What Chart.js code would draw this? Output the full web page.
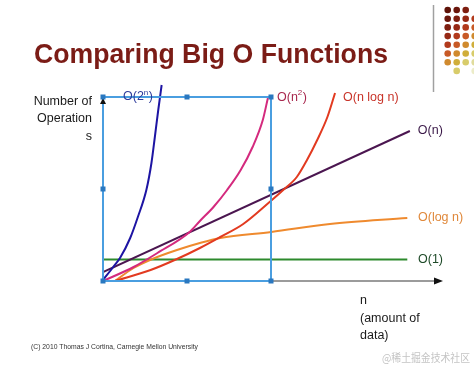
<!DOCTYPE html>
<html>
<head>
<meta charset="utf-8">
<script src="https://cdn.jsdelivr.net/npm/chart.js@4/dist/chart.umd.min.js"></script>
<style>
  html, body { margin:0; padding:0; background:#fff; }
  canvas { display:block; }
</style>
</head>
<body>
<canvas id="chart" width="474" height="366"></canvas>
<script>
// growth curves (n in arbitrary units, operations in arbitrary units)
const seriesNames = ['O(2^n)', 'O(n^2)', 'O(n log n)', 'O(n)', 'O(log n)', 'O(1)'];

const nExp   = [0, 0.6, 1.0, 1.6, 2.05, 2.55, 2.85, 3.05, 3.25, 3.45];
const opsExp = [0.1, 1.4, 2.3, 4.3, 6.4, 9.1, 11.8, 14.4, 17.1, 19.6];

const nQuad   = [0, 1.8, 3.2, 5.1, 5.7, 6.5, 7.3, 8.1, 8.8, 9.4, 9.7];
const opsQuad = [0, 1.4, 2.8, 4.9, 6.0, 7.4, 9.1, 11.1, 13.4, 16.1, 18.3];

const nNlogn   = [0.7, 2.8, 4.35, 5.7, 6.9, 8.25, 9.8, 10.6, 11.4, 12.0, 12.6, 13.2, 13.65];
const opsNlogn = [0, 1.1, 2.2, 3.3, 4.4, 5.7, 7.9, 9.1, 10.4, 12.1, 14.1, 16.4, 18.8];

const nLinear   = [0, 18.05];
const opsLinear = [0.9, 15.0];

const nLog   = [0.7, 1.8, 2.9, 4.35, 5.7, 6.9, 9.9, 13.35, 17.9];
const opsLog = [0, 1.3, 2.2, 3.1, 3.8, 4.3, 4.9, 5.7, 6.3];

const nConst   = [0, 17.9];
const opsConst = [2.15, 2.15];

const xRange = [0, 20];
const yRange = [0, 20];

const lineColors  = ['#1d14a3', '#d42a7e', '#e23a20', '#4b1650', '#ef8a2e', '#2d8a2d'];
const labelColors = ['#2e3c9c', '#a8284e', '#c8342a', '#3a1848', '#e0883a', '#1e4a28'];

const pts = (xs, ys) => xs.map((x, i) => ({ x: x, y: ys[i] }));
const allX = [nExp, nQuad, nNlogn, nLinear, nLog, nConst];
const allY = [opsExp, opsQuad, opsNlogn, opsLinear, opsLog, opsConst];

const datasets = seriesNames.map((name, i) => ({
  label: name,
  data: pts(allX[i], allY[i]),
  borderColor: lineColors[i],
  borderWidth: 2,
  pointRadius: 0,
  showLine: true,
  fill: false,
  cubicInterpolationMode: 'monotone'
}));

const FONT = '"Liberation Sans", Arial, sans-serif';

// text with optional superscript part
function supText(ctx, x, y, before, sup, after, color, size) {
  ctx.fillStyle = color;
  ctx.textBaseline = 'middle';
  ctx.textAlign = 'left';
  ctx.font = size + 'px ' + FONT;
  ctx.fillText(before, x, y);
  let w = ctx.measureText(before).width;
  if (sup) {
    ctx.font = Math.round(size * 0.6) + 'px ' + FONT;
    ctx.fillText(sup, x + w, y - size * 0.35);
    w += ctx.measureText(sup).width + 0.5;
    ctx.font = size + 'px ' + FONT;
  }
  ctx.fillText(after, x + w, y);
}

function fitText(ctx, txt, x, y, width) {
  const m = ctx.measureText(txt).width;
  ctx.save();
  ctx.translate(x, y);
  ctx.scale(width / m, 1);
  ctx.fillText(txt, 0, 0);
  ctx.restore();
}

const slideDecor = {
  id: 'slideDecor',
  beforeDraw(chart) {
    const ctx = chart.ctx;
    ctx.save();
    // title
    ctx.fillStyle = '#7b1c16';
    ctx.font = 'bold 27px ' + FONT;
    ctx.textBaseline = 'alphabetic';
    ctx.textAlign = 'left';
    fitText(ctx, 'Comparing Big O Functions', 34, 63, 354);

    // divider + dot grid, top right
    ctx.strokeStyle = '#a0a0a0';
    ctx.lineWidth = 1.5;
    ctx.beginPath();
    ctx.moveTo(433.5, 5);
    ctx.lineTo(433.5, 92);
    ctx.stroke();
    const pal = ['#5e1208', '#6a160c', '#7e1e10', '#962814', '#b23a1c', '#c85a26', '#d08a2e', '#d0ae3a', '#d8cc6a', '#e0dc9c', '#ececc8'];
    for (let r = 0; r < 8; r++) {
      for (let c = 0; c < 4; c++) {
        if (r === 7 && c !== 1 && c !== 3) continue;
        if (r === 0 && c === 3) continue;
        ctx.fillStyle = pal[Math.min(r + c, pal.length - 1)];
        ctx.beginPath();
        ctx.arc(447.7 + c * 9, 10 + r * 8.7, 3.3, 0, Math.PI * 2);
        ctx.fill();
      }
    }

    // axis titles
    ctx.fillStyle = '#1a1a1a';
    ctx.font = '12.5px ' + FONT;
    ctx.textBaseline = 'middle';
    ctx.textAlign = 'right';
    ctx.fillText('Number of', 92, 102);
    ctx.fillText('Operation', 92, 119);
    ctx.fillText('s', 92, 137);
    ctx.textAlign = 'left';
    ctx.fillText('n', 360, 301);
    ctx.fillText('(amount of', 360, 318.5);
    ctx.fillText('data)', 360, 336);

    // footer
    ctx.fillStyle = '#333';
    ctx.font = '7px ' + FONT;
    ctx.textBaseline = 'middle';
    fitText(ctx, '(C) 2010 Thomas J Cortina, Carnegie Mellon University', 31, 347.5, 167);
    ctx.fillStyle = '#c4c4c4';
    ctx.font = '11px "Noto Sans CJK SC", sans-serif';
    fitText(ctx, '@稀土掘金技术社区', 382, 357.5, 88);

    // axes
    const a = chart.chartArea;
    ctx.strokeStyle = '#7a7a7a';
    ctx.lineWidth = 1.5;
    ctx.beginPath();
    ctx.moveTo(a.left, a.bottom);
    ctx.lineTo(a.right - 6, a.bottom);
    ctx.stroke();
    ctx.fillStyle = '#111';
    ctx.beginPath();
    ctx.moveTo(a.right, a.bottom);
    ctx.lineTo(a.right - 9, a.bottom - 3.5);
    ctx.lineTo(a.right - 9, a.bottom + 3.5);
    ctx.closePath();
    ctx.fill();
    ctx.restore();
  },
  afterDatasetsDraw(chart) {
    const ctx = chart.ctx;
    const a = chart.chartArea;
    const xs = chart.scales.x, ys = chart.scales.y;
    ctx.save();
    // selection box around the left part of the plot
    const L = a.left, T = 97, R = 271, B = a.bottom;
    ctx.strokeStyle = '#4a9ee0';
    ctx.lineWidth = 2;
    ctx.strokeRect(L, T, R - L, B - T);
    // y axis arrow tip
    ctx.fillStyle = '#111';
    ctx.beginPath();
    ctx.moveTo(L, T + 1);
    ctx.lineTo(L - 3, T + 7);
    ctx.lineTo(L + 3, T + 7);
    ctx.closePath();
    ctx.fill();
    ctx.fillStyle = '#2a78c0';
    const mx = (L + R) / 2, my = (T + B) / 2;
    [[L, T], [mx, T], [R, T], [L, my], [R, my], [L, B], [mx, B], [R, B]].forEach(p => {
      ctx.fillRect(p[0] - 2.5, p[1] - 2.5, 5, 5);
    });

    // curve labels
    supText(ctx, 123, 97, 'O(2', 'n', ')', labelColors[0], 12.5);
    supText(ctx, 277, 97.5, 'O(n', '2', ')', labelColors[1], 12.5);
    supText(ctx, 343, 97.5, 'O(n log n)', '', '', labelColors[2], 12.5);
    const lx = xs.getPixelForValue(nLinear[1]) + 8;
    supText(ctx, lx, ys.getPixelForValue(opsLinear[1]), 'O(n)', '', '', labelColors[3], 12.5);
    supText(ctx, 418, ys.getPixelForValue(opsLog[opsLog.length - 1]), 'O(log n)', '', '', labelColors[4], 12.5);
    supText(ctx, 418, ys.getPixelForValue(opsConst[1]), 'O(1)', '', '', labelColors[5], 12.5);
    ctx.restore();
  }
};

new Chart(document.getElementById('chart'), {
  type: 'scatter',
  data: { datasets: datasets },
  options: {
    responsive: false,
    animation: false,
    devicePixelRatio: 1,
    layout: { padding: { left: 103, right: 31, top: 81, bottom: 85 } },
    plugins: { legend: { display: false }, tooltip: { enabled: false }, title: { display: false } },
    scales: {
      x: { type: 'linear', min: xRange[0], max: xRange[1], display: false },
      y: { type: 'linear', min: yRange[0], max: yRange[1], display: false }
    }
  },
  plugins: [slideDecor]
});
</script>
</body>
</html>
